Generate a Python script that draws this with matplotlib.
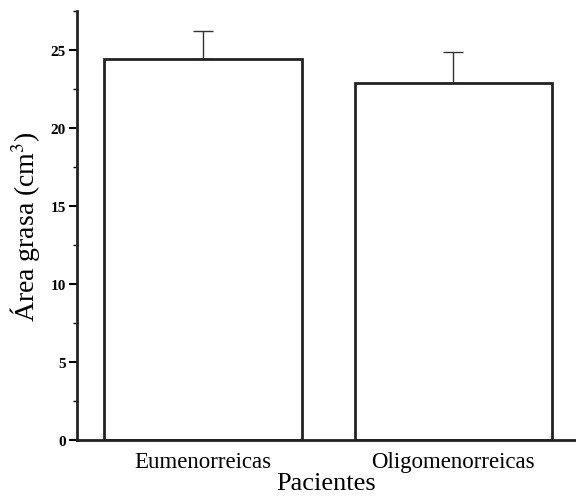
import matplotlib
matplotlib.use("Agg")
import matplotlib.pyplot as plt
from matplotlib.ticker import MultipleLocator

grupos = ["Eumenorreicas", "Oligomenorreicas"]
media = [24.4, 22.9]
error = [1.85, 2.0]

plt.rcParams["font.family"] = ["Liberation Serif", "DejaVu Serif"]
plt.rcParams["mathtext.fontset"] = "stix"

fig = plt.figure(figsize=(5.76, 5.02), dpi=100)
ax = fig.add_axes([0.1337, 0.1215, 0.8663, 0.8545])

x = range(len(grupos))
ax.bar(x, media, width=0.79, color="white", edgecolor="#222222", linewidth=2.0, zorder=2)
ax.errorbar(x, media, yerr=[[0, 0], error], fmt="none", ecolor="#333333",
            elinewidth=1.0, capsize=7, capthick=1.0, zorder=1)

ax.set_xlim(-0.504, 1.49)
ax.set_ylim(0, 27.5)
ax.yaxis.set_major_locator(MultipleLocator(5))
ax.yaxis.set_minor_locator(MultipleLocator(2.5))
ax.set_xticks(list(x))
ax.set_xticklabels(grupos, fontsize=16.5)
ax.tick_params(axis="x", length=0, pad=8)
ax.tick_params(axis="y", which="major", length=6, width=1.5, labelsize=11, pad=2)
ax.tick_params(axis="y", which="minor", length=3, width=1.0)
for lab in ax.get_yticklabels():
    lab.set_fontweight("bold")

for s in ["top", "right"]:
    ax.spines[s].set_visible(False)
ax.spines["left"].set_linewidth(2.0)
ax.spines["bottom"].set_linewidth(2.0)
ax.spines["left"].set_color("#222222")
ax.spines["bottom"].set_color("#222222")

ax.set_ylabel("Área grasa (cm$^3$)", fontsize=20, labelpad=6)
ax.set_xlabel("Pacientes", fontsize=19, labelpad=0)

fig.savefig("out.png", dpi=100)
